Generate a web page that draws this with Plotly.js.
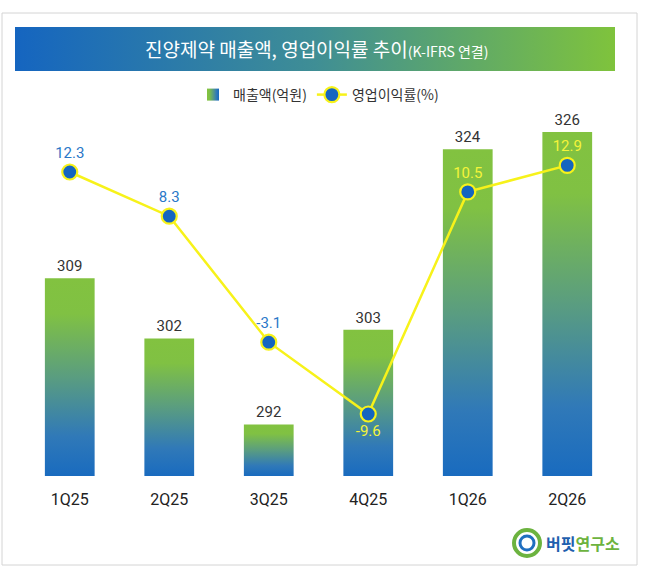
<!DOCTYPE html>
<html>
<head>
<meta charset="utf-8">
<script src="https://cdn.plot.ly/plotly-3.0.1.min.js"></script>
<style>
  html, body { margin: 0; padding: 0; background: #fff; }
  #chart { width: 650px; height: 567px; }
</style>
</head>
<body>
<div id="chart"></div>
<script>

// quarters and values
var quarters = ['1Q25', '2Q25', '3Q25', '4Q25', '1Q26', '2Q26'];
var sales = [309, 302, 292, 303, 324, 326];          // 매출액(억원)
var opMargin = [12.3, 8.3, -3.1, -9.6, 10.5, 12.9];  // 영업이익률(%)
var marginTextPos = ['top center', 'top center', 'top center', 'bottom center', 'top center', 'top center'];
var marginTextColor = ['#2a78c8', '#2a78c8', '#2a78c8', '#f4f43a', '#f4f43a', '#f4f43a'];

// plot box in pixels
var ML = 20, MT = 110, PW = 597, PH = 366;
function px(x) { return (x - ML) / PW; }
function py(y) { return (MT + PH - y) / PH; }

var BAR_TAG = 'rgb(121, 181, 81)';     // swapped for a gradient after drawing
var BANNER_TAG = 'rgb(23, 111, 190)';

var salesTrace = {
  x: quarters,
  y: sales,
  name: '매출액(억원)',
  type: 'bar',
  width: 0.5,
  marker: { color: BAR_TAG },
  text: sales.map(String),
  textposition: 'outside',
  textfont: { family: 'Roboto, sans-serif', size: 15, color: '#333' },
  cliponaxis: false,
  hoverinfo: 'skip'
};

var marginTrace = {
  x: quarters,
  y: opMargin,
  name: '영업이익률(%)',
  type: 'scatter',
  mode: 'lines+markers+text',
  yaxis: 'y2',
  line: { color: '#f7f21a', width: 2.5 },
  marker: { size: 15, color: '#1565c0', line: { color: '#f7f21a', width: 2.2 } },
  text: opMargin.map(function (v) { return v.toFixed(1); }),
  textposition: marginTextPos,
  textfont: { family: 'Roboto, sans-serif', size: 15, color: marginTextColor },
  cliponaxis: false,
  hoverinfo: 'skip'
};

var layout = {
  width: 650,
  height: 567,
  margin: { l: ML, r: 650 - ML - PW, t: MT, b: 567 - MT - PH },
  paper_bgcolor: '#fff',
  plot_bgcolor: 'rgba(0,0,0,0)',
  showlegend: true,
  font: { family: '"Noto Sans CJK KR", Roboto, sans-serif', color: '#333' },
  legend: {
    orientation: 'h', x: 0.5, xanchor: 'center', y: py(95), yanchor: 'middle',
    font: { size: 14, color: '#333' }, itemwidth: 30, tracegroupgap: 0
  },
  xaxis: {
    showline: false, showgrid: false, zeroline: false, ticks: '',
    tickfont: { family: 'Roboto, sans-serif', size: 16, color: '#222' },
    ticklabelstandoff: 12
  },
  yaxis: { range: [286, 286 + PH / 8.6], visible: false, showgrid: false, zeroline: false },
  yaxis2: { range: [-15.21, 17.91], overlaying: 'y', visible: false, showgrid: false, zeroline: false },
  bargap: 0.5,
  shapes: [
    // outer frame
    { type: 'rect', xref: 'paper', yref: 'paper', x0: px(2), x1: px(637), y0: py(565), y1: py(13),
      line: { color: '#d4d4d4', width: 1 }, fillcolor: 'rgba(0,0,0,0)', layer: 'below' },
    // title banner
    { type: 'rect', xref: 'paper', yref: 'paper', x0: px(15), x1: px(615), y0: py(71), y1: py(27),
      line: { width: 0 }, fillcolor: BANNER_TAG, layer: 'below' },
    // logo rings
    { type: 'circle', xref: 'paper', yref: 'paper', x0: px(514), x1: px(540), y0: py(556), y1: py(530),
      line: { color: '#6cb33f', width: 4 }, fillcolor: '#fff', layer: 'above' },
    { type: 'circle', xref: 'paper', yref: 'paper', x0: px(520), x1: px(534), y0: py(550), y1: py(536),
      line: { color: '#1f6fc0', width: 3 }, fillcolor: '#fff', layer: 'above' }
  ],
  annotations: [
    { xref: 'paper', yref: 'paper', x: px(316), y: py(48), xanchor: 'center', yanchor: 'middle',
      showarrow: false,
      text: '진양제약 매출액, 영업이익률 추이<span style="font-size:14px">(K-IFRS 연결)</span>',
      font: { family: '"Noto Sans CJK KR", sans-serif', size: 19, color: '#fff' } },
    { xref: 'paper', yref: 'paper', x: px(544), y: py(543), xanchor: 'left', yanchor: 'middle',
      showarrow: false,
      text: '<b><span style="color:#1f5fae">버핏</span><span style="color:#6db33f">연구소</span></b>',
      font: { family: '"Noto Sans CJK KR", sans-serif', size: 16 } }
  ]
};

var NS = 'http://www.w3.org/2000/svg';

function addGradient(defs, id, coords, stops, userSpace) {
  var old = document.getElementById(id);
  if (old) old.parentNode.removeChild(old);
  var g = document.createElementNS(NS, 'linearGradient');
  g.setAttribute('id', id);
  if (userSpace) g.setAttribute('gradientUnits', 'userSpaceOnUse');
  g.setAttribute('x1', coords[0]); g.setAttribute('y1', coords[1]);
  g.setAttribute('x2', coords[2]); g.setAttribute('y2', coords[3]);
  stops.forEach(function (s) {
    var st = document.createElementNS(NS, 'stop');
    st.setAttribute('offset', s[0]);
    st.setAttribute('stop-color', s[1]);
    g.appendChild(st);
  });
  defs.appendChild(g);
}

var barStops = [['0', '#82c240'], ['0.18', '#80c143'], ['0.5', '#5a9d80'], ['0.8', '#3079b8'], ['1', '#196bbf']];
var bannerStops = [['0', '#1565c0'], ['0.5', '#3f8e95'], ['1', '#7fc33c']];

function norm(s) { return (s || '').replace(/\s/g, ''); }

function paintGradients(gd) {
  var svg = gd.querySelector('svg.main-svg');
  if (!svg) return;
  var defs = svg.querySelector('defs');
  if (!document.getElementById('legendBarGrad')) {
    addGradient(defs, 'legendBarGrad', ['0', '0', '1', '0'], barStops, false);
    addGradient(defs, 'bannerGrad', ['0', '0', '1', '0'], bannerStops, false);
  }
  var n = 0;
  gd.querySelectorAll('path').forEach(function (p) {
    var st = norm(p.getAttribute('style'));
    if (st.indexOf(norm(BAR_TAG)) >= 0) {
      if (p.closest('.legend')) {
        p.style.fill = 'url(#legendBarGrad)';
      } else {
        // each bar fades from green at its top to blue at the plot floor
        var bb = p.getBBox();
        var id = 'barGrad' + (n++);
        addGradient(defs, id, ['0', String(bb.y), '0', String(PH)], barStops, true);
        p.style.fill = 'url(#' + id + ')';
      }
    }
    if (st.indexOf(norm(BANNER_TAG)) >= 0) p.style.fill = 'url(#bannerGrad)';
  });
}

var gd = document.getElementById('chart');
Plotly.newPlot(gd, [salesTrace, marginTrace], layout, { displayModeBar: false, staticPlot: true })
  .then(function () {
    paintGradients(gd);
    gd.on('plotly_afterplot', function () { paintGradients(gd); });
  });

</script>
</body>
</html>
